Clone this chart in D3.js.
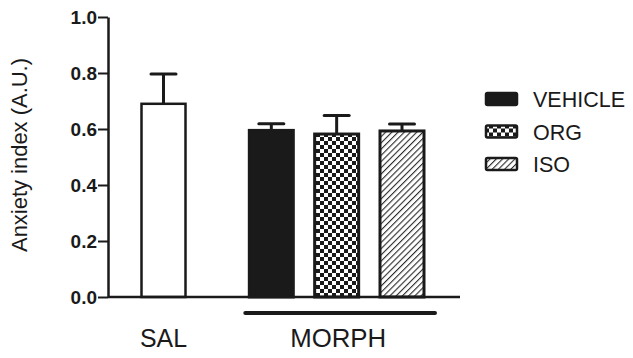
<!doctype html>
<html lang="en">
<head>
<meta charset="utf-8">
<script src="https://d3js.org/d3.v7.min.js"></script>
<style>
	body { margin: 0; background: #fff; }
	svg text { font-family: Arial, "Liberation Sans", sans-serif; fill: #1a1a1a; }
</style>
</head>
<body>
<div id="chart"></div>
<script>

	// data
	var categories = ["SAL", "VEHICLE", "ORG", "ISO"];
	var groups     = ["SAL", "MORPH", "MORPH", "MORPH"];
	var means      = [0.69, 0.595, 0.582, 0.593];
	var sems       = [0.106, 0.024, 0.066, 0.025];
	var fills      = ["white", "solid", "checker", "hatch"];
	var yTicks     = [0.0, 0.2, 0.4, 0.6, 0.8, 1.0];
	var legendKeys = ["VEHICLE", "ORG", "ISO"];

	var margin = {top: 17, left: 108},
		width = 352,
		height = 280;

	var ink = "#1a1a1a";

	var svg = d3.select("#chart")
		.append("svg")
		.attr("width", 633)
		.attr("height", 358);

	// patterns for the bars
	var defs = svg.append("defs");
	var checker = defs.append("pattern")
		.attr("id", "checker")
		.attr("patternUnits", "userSpaceOnUse")
		.attr("width", 8).attr("height", 8);
	checker.append("rect").attr("width", 8).attr("height", 8).attr("fill", ink);
	checker.append("rect").attr("width", 4).attr("height", 4).attr("fill", "#fff");
	checker.append("rect").attr("x", 4).attr("y", 4).attr("width", 4).attr("height", 4).attr("fill", "#fff");

	var hatch = defs.append("pattern")
		.attr("id", "hatch")
		.attr("patternUnits", "userSpaceOnUse")
		.attr("width", 4.4).attr("height", 4.4)
		.attr("patternTransform", "rotate(45)");
	hatch.append("rect").attr("width", 4.4).attr("height", 4.4).attr("fill", "#fff");
	hatch.append("line").attr("x1", 0).attr("y1", 0).attr("x2", 0).attr("y2", 4.4)
		.attr("stroke", "#2a2a2a").attr("stroke-width", 2.2);

	function fillFor(f) {
		if (f == "white") return "#fff";
		if (f == "solid") return ink;
		return "url(#" + f + ")";
	}

	var g = svg.append("g")
		.attr("transform", "translate(" + margin.left + "," + margin.top + ")");

	// slot index with an extra gap between groups
	var groupGap = 0.65;
	var slots = [];
	categories.forEach(function(c, i) {
		var s = i;
		groups.forEach(function(gr, j) { if (j > 0 && j <= i && groups[j] != groups[j - 1]) s += groupGap; });
		slots.push(s);
	});

	var x = d3.scaleLinear()
		.domain([0, d3.max(slots)])
		.range([55.5, 294]);

	var y = d3.scaleLinear()
		.domain([0, 1])
		.range([height, 0]);

	var barW = 44;

	// Y axis
	var yAxis = g.append("g")
		.call(d3.axisLeft(y).tickValues(yTicks).tickSize(10).tickSizeOuter(0).tickPadding(1)
			.tickFormat(d3.format(".1f")));
	yAxis.select(".domain").attr("stroke", ink).attr("stroke-width", 2.5);
	yAxis.selectAll(".tick line").attr("stroke", ink).attr("stroke-width", 2);
	yAxis.selectAll(".tick text")
		.style("font-size", "19px")
		.style("font-weight", "bold")
		.attr("fill", ink);

	// Y label
	g.append("text")
		.attr("transform", "rotate(-90)")
		.attr("x", -138)
		.attr("y", -margin.left + 27)
		.attr("text-anchor", "middle")
		.style("font-size", "22px")
		.attr("textLength", 194)
		.attr("lengthAdjust", "spacingAndGlyphs")
		.text("Anxiety index (A.U.)");

	var data = categories.map(function(c, i) {
		return {name: c, mean: means[i], sem: sems[i], fill: fills[i], slot: slots[i]};
	});

	// error bars (upper only)
	var err = g.selectAll(".err").data(data).enter().append("g").attr("class", "err");
	err.append("line")
		.attr("x1", d => x(d.slot)).attr("x2", d => x(d.slot))
		.attr("y1", d => y(d.mean)).attr("y2", d => y(d.mean + d.sem))
		.attr("stroke", ink).attr("stroke-width", 3);
	err.append("line")
		.attr("x1", d => x(d.slot) - 12.5).attr("x2", d => x(d.slot) + 12.5)
		.attr("y1", d => y(d.mean + d.sem)).attr("y2", d => y(d.mean + d.sem))
		.attr("stroke", ink).attr("stroke-width", 3).attr("stroke-linecap", "round");

	// bars
	g.selectAll(".bar").data(data).enter().append("rect")
		.attr("class", "bar")
		.attr("x", d => x(d.slot) - barW / 2)
		.attr("y", d => y(d.mean))
		.attr("width", barW)
		.attr("height", d => y(0) - y(d.mean))
		.attr("fill", d => fillFor(d.fill))
		.attr("stroke", ink)
		.attr("stroke-width", d => d.fill == "white" ? 2.5 : 3);

	// X axis line
	g.append("line")
		.attr("x1", 0).attr("x2", width)
		.attr("y1", y(0)).attr("y2", y(0))
		.attr("stroke", ink).attr("stroke-width", 2.5);

	// group labels
	var groupNames = Array.from(new Set(groups));
	groupNames.forEach(function(gn) {
		var members = data.filter(function(d, i) { return groups[i] == gn; });
		var lo = d3.min(members, d => x(d.slot)), hi = d3.max(members, d => x(d.slot));
		var cx = (lo + hi) / 2 + (members.length > 1 ? 1.5 : 0);
		if (members.length > 1) {
			g.append("line")
				.attr("x1", lo - 26).attr("x2", hi + 33)
				.attr("y1", y(0) + 16).attr("y2", y(0) + 16)
				.attr("stroke", ink).attr("stroke-width", 4).attr("stroke-linecap", "round");
		}
		g.append("text")
			.attr("x", cx)
			.attr("y", y(0) + 50)
			.attr("text-anchor", "middle")
			.style("font-size", "25px")
			.attr("textLength", members.length > 1 ? 96 : 47)
			.attr("lengthAdjust", "spacingAndGlyphs")
			.text(gn);
	});

	// legend
	var legend = svg.append("g").attr("transform", "translate(485,92)");
	legendKeys.forEach(function(k, i) {
		var d = data[categories.indexOf(k)];
		var row = legend.append("g").attr("transform", "translate(0," + (i * 32.5) + ")");
		row.append("rect")
			.attr("x", 1).attr("y", 1)
			.attr("width", 31).attr("height", 12)
			.attr("rx", 1.5)
			.attr("fill", fillFor(d.fill))
			.attr("stroke", ink).attr("stroke-width", 2.5);
		row.append("text")
			.attr("x", 48)
			.attr("y", 15)
			.style("font-size", "21.5px")
			.text(k);
	});

</script>
</body>
</html>
